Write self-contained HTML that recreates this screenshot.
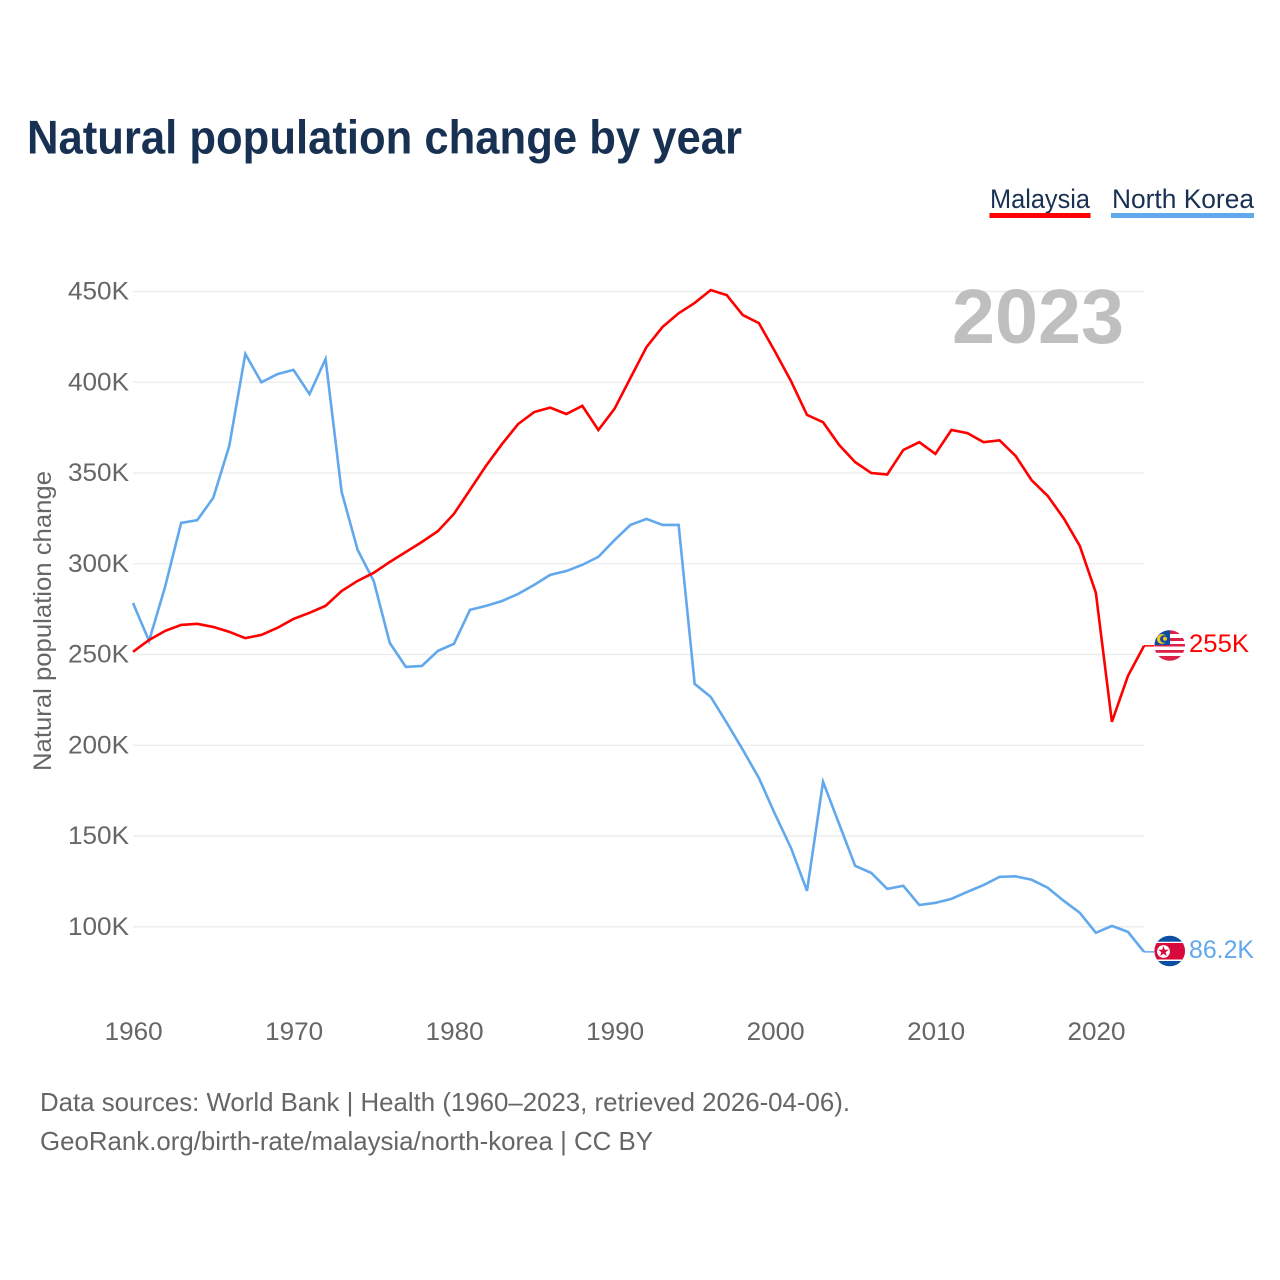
<!DOCTYPE html>
<html lang="en">
<head>
<meta charset="utf-8">
<title>Natural population change by year</title>
<style>
html,body{margin:0;padding:0;background:#fff;width:1280px;height:1280px;overflow:hidden}
svg{display:block;font-family:"Liberation Sans",sans-serif}
</style>
</head>
<body>
<svg id="chart" xmlns="http://www.w3.org/2000/svg" width="1280" height="1280" viewBox="0 0 1280 1280">
  <defs>
    <clipPath id="flag-clip-my"><circle cx="1169.7" cy="645.5" r="15.3"/></clipPath>
    <clipPath id="flag-clip-kp"><circle cx="1169.7" cy="951" r="15.3"/></clipPath>
  </defs>
  <text x="27" y="153.5" font-size="47" font-weight="700" fill="#183153" textLength="715" lengthAdjust="spacingAndGlyphs">Natural population change by year</text>

  <text x="990" y="208" font-size="27" fill="#183153" textLength="100" lengthAdjust="spacingAndGlyphs">Malaysia</text>
  <rect x="989.5" y="213" width="101" height="5" fill="#ff0000"/>
  <text x="1112" y="208" font-size="27" fill="#183153" textLength="142" lengthAdjust="spacingAndGlyphs">North Korea</text>
  <rect x="1111" y="213" width="143" height="5" fill="#62a8ec"/>

  <g id="grid"></g>
  <g id="y-axis"></g>
  <g id="x-axis"></g>

  <text x="952" y="343" font-size="77" font-weight="700" fill="#bfbfbf" textLength="172" lengthAdjust="spacingAndGlyphs">2023</text>

  <text transform="translate(51,771) rotate(-90)" x="0" y="0" font-size="25" fill="#666666" textLength="300" lengthAdjust="spacingAndGlyphs">Natural population change</text>

  <g id="series"></g>

  <g clip-path="url(#flag-clip-my)">
    <rect x="1154" y="630" width="32" height="32" fill="#ffffff"/>
    <rect x="1154" y="630" width="32" height="4" fill="#dc2048"/>
    <rect x="1154" y="638" width="32" height="3" fill="#dc2048"/>
    <rect x="1154" y="644" width="32" height="2.5" fill="#dc2048"/>
    <rect x="1154" y="650" width="32" height="2.8" fill="#dc2048"/>
    <rect x="1154" y="656" width="32" height="6" fill="#dc2048"/>
    <rect x="1154" y="630" width="16" height="15" fill="#0b4ea2"/>
    <circle cx="1162" cy="639" r="5" fill="#f7c81e"/>
    <circle cx="1163.8" cy="639" r="3.8" fill="#0b4ea2"/>
    <circle cx="1165" cy="638.8" r="2" fill="#f7c81e"/>
  </g>
  <g clip-path="url(#flag-clip-kp)">
    <rect x="1154" y="935" width="32" height="32" fill="#0b4ea2"/>
    <rect x="1154" y="941.7" width="32" height="19.3" fill="#ffffff"/>
    <rect x="1154" y="943" width="32" height="16.5" fill="#d80a3c"/>
    <circle cx="1163.5" cy="951.5" r="6.4" fill="#ffffff"/>
    <polygon points="1163.5,946 1164.8,949.7 1168.7,949.8 1165.6,952.2 1166.7,956 1163.5,953.8 1160.3,956 1161.4,952.2 1158.3,949.8 1162.2,949.7" fill="#d80a3c"/>
  </g>

  <text id="end-label-malaysia" x="1189" y="652" font-size="25" fill="#ff0000" textLength="60" lengthAdjust="spacingAndGlyphs">255K</text>
  <text id="end-label-north-korea" x="1189" y="958" font-size="25" fill="#62a8ec" textLength="65" lengthAdjust="spacingAndGlyphs">86.2K</text>

  <text x="40" y="1111" font-size="26" fill="#666666" textLength="810" lengthAdjust="spacingAndGlyphs">Data sources: World Bank | Health (1960–2023, retrieved 2026-04-06).</text>
  <a><text x="40" y="1150" font-size="26" fill="#666666" textLength="613" lengthAdjust="spacingAndGlyphs">GeoRank.org/birth-rate/malaysia/north-korea | CC BY</text></a>
</svg>
<script>
const yearStart = 1960;
const xTicks = [1960, 1970, 1980, 1990, 2000, 2010, 2020];
const yTicks = [100, 150, 200, 250, 300, 350, 400, 450];
const malaysia = [251.5,258,263,266.3,266.9,265.2,262.5,259,260.8,264.7,269.6,273,276.8,285,290.6,295,301,306.5,312,318,327.5,340.7,354,366,377,383.6,386,382.5,387,373.7,385.3,402.4,419.4,430.5,438,443.7,450.8,448,437,432.6,417,400.7,382,378,365.5,356,350,349.2,362.7,367,360.5,373.7,372,367,368,359.4,346,337.4,325,309.8,284,212.9,238.2,254.8];
const northKorea = [278.4,257.5,287.3,322.5,324,336.3,365,415.6,400,404.5,406.8,393.5,412.8,339.6,307.6,290.5,256.4,243.2,243.7,252,255.9,274.6,276.8,279.5,283.4,288.4,293.9,296,299.4,303.8,313,321.4,324.7,321.4,321.4,233.8,226.7,212.4,197.5,182,162.2,143.5,119.8,179.9,156.7,133.6,129.7,120.9,122.6,112,113.2,115.4,119.3,123,127.5,127.8,125.9,121.5,114.3,107.7,96.7,100.5,97.2,86.2];

const NS = 'http://www.w3.org/2000/svg';
function xScale(year) { return 133 + (year - 1960) * (1144 - 133) / 63; }
function yScale(v) { return 926.8 - (v - 100) * (926.8 - 291.5) / 350; }

const grid = document.getElementById('grid');
const yAxis = document.getElementById('y-axis');
const xAxis = document.getElementById('x-axis');
const seriesGroup = document.getElementById('series');

yTicks.forEach(function (t) {
  const line = document.createElementNS(NS, 'line');
  
  
  line.setAttribute('x1', 133);
  line.setAttribute('x2', 1144);
  line.setAttribute('y1', yScale(t));
  line.setAttribute('y2', yScale(t));
  line.setAttribute('stroke', '#ebebeb');
  line.setAttribute('stroke-width', 1.3);
  grid.appendChild(line);

  const label = document.createElementNS(NS, 'text');
  
  
  label.setAttribute('x', 129);
  label.setAttribute('y', yScale(t) + 8);
  label.setAttribute('text-anchor', 'end');
  label.setAttribute('font-size', 25);
  label.setAttribute('fill', '#666666');
  label.setAttribute('textLength', 61);
  label.setAttribute('lengthAdjust', 'spacingAndGlyphs');
  label.textContent = t + 'K';
  yAxis.appendChild(label);
});

xTicks.forEach(function (t) {
  const label = document.createElementNS(NS, 'text');
  
  
  label.setAttribute('x', xScale(t) + 0.7);
  label.setAttribute('y', 1040);
  label.setAttribute('text-anchor', 'middle');
  label.setAttribute('font-size', 25);
  label.setAttribute('fill', '#666666');
  label.setAttribute('textLength', 58);
  label.setAttribute('lengthAdjust', 'spacingAndGlyphs');
  label.textContent = t;
  xAxis.appendChild(label);
});

function linePoints(values) {
  return values.map(function (v, i) {
    return xScale(yearStart + i).toFixed(2) + ',' + yScale(v).toFixed(2);
  }).join(' ');
}

function lastX(values) { return xScale(yearStart + values.length - 1); }
function lastY(values) { return yScale(values[values.length - 1]); }

const connectorNk = document.createElementNS(NS, 'line');


connectorNk.setAttribute('x1', lastX(northKorea));
connectorNk.setAttribute('x2', lastX(northKorea) + 10);
connectorNk.setAttribute('y1', lastY(northKorea));
connectorNk.setAttribute('y2', lastY(northKorea));
connectorNk.setAttribute('stroke', '#62a8ec');
connectorNk.setAttribute('stroke-width', 1.5);
seriesGroup.appendChild(connectorNk);

const connectorMy = document.createElementNS(NS, 'line');


connectorMy.setAttribute('x1', lastX(malaysia));
connectorMy.setAttribute('x2', lastX(malaysia) + 10);
connectorMy.setAttribute('y1', lastY(malaysia));
connectorMy.setAttribute('y2', lastY(malaysia));
connectorMy.setAttribute('stroke', '#ff0000');
connectorMy.setAttribute('stroke-width', 1.5);
seriesGroup.appendChild(connectorMy);

const lineNk = document.createElementNS(NS, 'polyline');


lineNk.setAttribute('points', linePoints(northKorea));
lineNk.setAttribute('fill', 'none');
lineNk.setAttribute('stroke', '#62a8ec');
lineNk.setAttribute('stroke-width', 2.6);
lineNk.setAttribute('stroke-linejoin', 'miter');
seriesGroup.appendChild(lineNk);

const lineMy = document.createElementNS(NS, 'polyline');


lineMy.setAttribute('points', linePoints(malaysia));
lineMy.setAttribute('fill', 'none');
lineMy.setAttribute('stroke', '#ff0000');
lineMy.setAttribute('stroke-width', 2.6);
lineMy.setAttribute('stroke-linejoin', 'miter');
seriesGroup.appendChild(lineMy);
</script>
</body>
</html>
